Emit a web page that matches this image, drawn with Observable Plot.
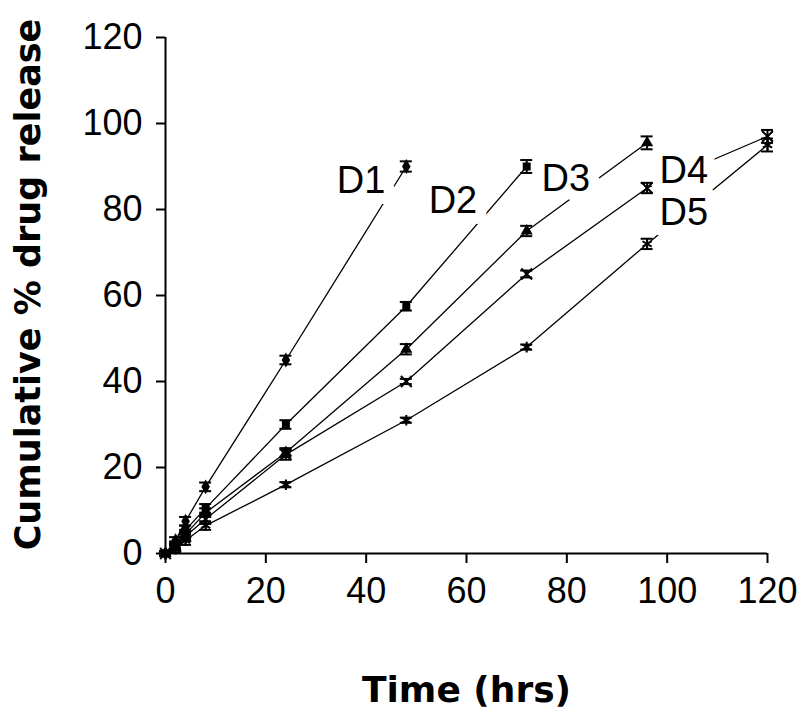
<!DOCTYPE html>
<html><head><meta charset="utf-8">
<script src="https://cdn.jsdelivr.net/npm/d3@7"></script>
<script src="https://cdn.jsdelivr.net/npm/@observablehq/plot@0.6"></script>
<style>body{margin:0;background:#fff}</style>
</head><body><div id="chart"></div>
<script>
const times = [0, 2, 4, 8, 24, 48, 72, 96, 120];
const seriesNames = ["D1", "D2", "D3", "D4", "D5"];
const D1 = [0, 3, 7.5, 15.5, 45, 90];
const D2 = [0, 2, 5.5, 10.5, 30, 57.5, 90];
const D3 = [0, 1.5, 4.5, 9.5, 23.5, 47.5, 75, 95.5];
const D4 = [0, 1.5, 4, 8, 23, 40, 65, 85, 97];
const D5 = [0, 1, 3, 6.5, 16, 31, 48, 72, 95];
const SD1 = [0.5, 0.8, 1, 1, 1, 1.2];
const SD2 = [0.5, 0.8, 1, 1, 1, 1, 1.5];
const SD3 = [0.5, 0.8, 1, 1, 1, 1.2, 1.2, 1.5];
const SD4 = [0.5, 0.8, 1, 1, 1.2, 0.6, 0.8, 1.2, 1.5];
const SD5 = [0.5, 0.8, 1, 1, 0.6, 0.6, 0.6, 1.2, 1.5];
const symbols = ["diamond", "square", "triangle", "times", "asterisk"];
const xTicks = [0, 20, 40, 60, 80, 100, 120];
const yTicks = [0, 20, 40, 60, 80, 100, 120];
const labelNames = ["D1", "D2", "D3", "D4", "D5"];
const labelX = [39, 57.3, 79.8, 103.3, 103.3];
const labelY = [86.7, 82.1, 87.2, 89, 79.3];

const vals = [D1, D2, D3, D4, D5];
const sds = [SD1, SD2, SD3, SD4, SD5];
const rows = [];
vals.forEach((arr, i) => arr.forEach((v, j) => rows.push({series: seriesNames[i], x: times[j], y: v, sd: sds[i][j], sym: symbols[i]})));
const labels = labelNames.map((n, i) => ({name: n, x: labelX[i], y: labelY[i]}));

const filled = rows.filter(d => ["diamond","square","triangle"].includes(d.sym));
const stroked = rows.filter(d => !["diamond","square","triangle"].includes(d.sym));

const plot = Plot.plot({
  width: 799, height: 713,
  marginLeft: 165, marginRight: 32, marginTop: 37, marginBottom: 160,
  style: {fontFamily: "'Liberation Sans', Arial, sans-serif", background: "#fff", color: "#000"},
  x: {domain: [0, 120]},
  y: {domain: [0, 120]},
  symbol: {domain: symbols, range: symbols},
  marks: [
    Plot.axisX({ticks: xTicks, tickSize: 10, tickPadding: 14, fontSize: 36, label: null, strokeWidth: 2}),
    Plot.axisY({ticks: yTicks, tickSize: 9, tickPadding: 14, fontSize: 36, label: null, strokeWidth: 2}),
    Plot.ruleY([0], {stroke: "black", strokeWidth: 2}),
    Plot.ruleX([0], {stroke: "black", strokeWidth: 2}),
    Plot.line(rows, {x: "x", y: "y", z: "series", stroke: "black", strokeWidth: 1.3}),
    Plot.text(labels, {x: "x", y: "y", text: "name", fontSize: 38, fill: "black", stroke: "white", strokeWidth: 22, paintOrder: "stroke"}),
    Plot.ruleX(rows, {x: "x", y1: d => d.y - d.sd, y2: d => d.y + d.sd, stroke: "black", strokeWidth: 2}),
    Plot.ruleY(rows, {y: d => d.y + d.sd, x1: "x", x2: "x", insetLeft: -6, insetRight: -6, stroke: "black", strokeWidth: 2}),
    Plot.ruleY(rows, {y: d => d.y - d.sd, x1: "x", x2: "x", insetLeft: -6, insetRight: -6, stroke: "black", strokeWidth: 2}),
    Plot.dot(filled, {x: "x", y: "y", symbol: "sym", fill: "black", r: 4.5}),
    Plot.dot(stroked, {x: "x", y: "y", symbol: "sym", stroke: "black", strokeWidth: 2, r: 5}),
    Plot.text(["Time (hrs)"], {frameAnchor: "bottom", dy: 137, fontSize: 36, fontWeight: "bold", fontFamily: "'DejaVu Sans', Verdana, sans-serif", lineAnchor: "middle"}),
    Plot.text(["Cumulative % drug release"], {frameAnchor: "left", dx: -137, dy: -11, rotate: -90, textAnchor: "middle", fontSize: 35, fontWeight: "bold", fontFamily: "'DejaVu Sans', Verdana, sans-serif", lineAnchor: "middle"})
  ]
});
document.getElementById("chart").appendChild(plot);
</script></body></html>
